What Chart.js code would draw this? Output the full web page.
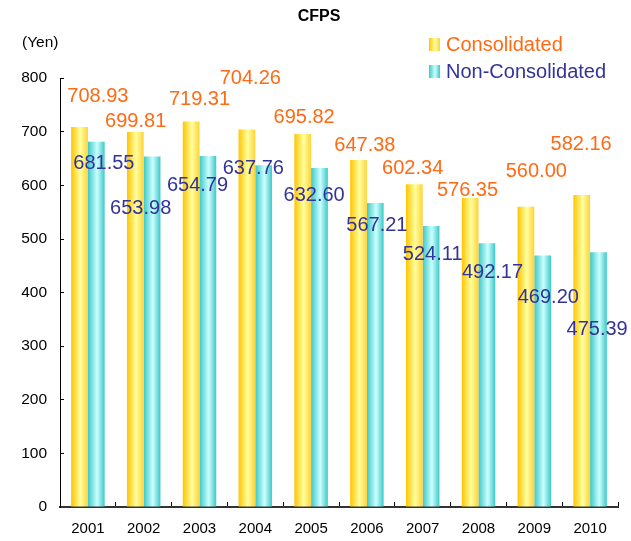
<!DOCTYPE html>
<html>
<head>
<meta charset="utf-8">
<script src="https://cdn.jsdelivr.net/npm/chart.js@4.4.0/dist/chart.umd.min.js"></script>
<style>
  html, body { margin: 0; padding: 0; background: #fff; }
  #wrap { width: 631px; height: 541px; }
</style>
</head>
<body>
<div id="wrap"><canvas id="myChart"></canvas></div>
<script>
  const years = ['2001','2002','2003','2004','2005','2006','2007','2008','2009','2010'];
  const consolidated = [708.93, 699.81, 719.31, 704.26, 695.82, 647.38, 602.34, 576.35, 560.00, 582.16];
  const nonConsolidated = [681.55, 653.98, 654.79, 637.76, 632.60, 567.21, 524.11, 492.17, 469.20, 475.39];
  const seriesNames = ['Consolidated', 'Non-Consolidated'];

  // value labels are hand placed in the original: [dx from category centre, dy from bar top]
  const labelShiftCons = [[10,-31],[-8,-10],[0,-22],[-5,-51],[-7,-17],[-2,-15],[-10,-16],[-11,-8],[2,-35],[-9,-50]];
  const labelShiftNon = [[16,22],[-3,52],[-2,29],[-2,3],[3,28],[10,23],[10,28],[14,29],[14,42],[7,77]];

  const textCols = ['#FF6A13', '#333399'];
  const stops = [
    ['#FFC400', '#FFFF9E', '#FFD23A'],
    ['#3CC8C8', '#CCFFFF', '#3CC8C8']
  ];
  const FONT = "'Liberation Sans', Arial, sans-serif";

  function makeGrad(ctx, x0, x1, k) {
    const g = ctx.createLinearGradient(x0, 0, x1, 0);
    g.addColorStop(0, stops[k][0]);
    g.addColorStop(0.55, stops[k][1]);
    g.addColorStop(1, stops[k][2]);
    return g;
  }

  const catPct = 0.6;

  function barFill(k) {
    return function(c) {
      const chart = c.chart;
      const xs = chart.scales.x;
      if (!xs || c.dataIndex === undefined) return stops[k][0];
      const w = xs.width / years.length;
      const cx = xs.getPixelForValue(c.dataIndex);
      const left = cx - w * catPct / 2 + k * w * catPct / 2;
      if (!isFinite(left) || !isFinite(w) || w <= 0) return stops[k][0];
      return makeGrad(chart.ctx, left, left + w * catPct / 2, k);
    };
  }

  const extras = {
    id: 'extras',
    afterLayout(chart) {
      // title in the original sits a little right of the canvas centre
      if (chart.titleBlock) chart.titleBlock.left += 11;
    },
    afterDatasetsDraw(chart) {
      const ctx = chart.ctx;
      const xs = chart.scales.x;
      ctx.save();
      ctx.font = '20px ' + FONT;
      ctx.textAlign = 'center';
      ctx.textBaseline = 'middle';
      [labelShiftCons, labelShiftNon].forEach((shift, k) => {
        const meta = chart.getDatasetMeta(k);
        const vals = chart.data.datasets[k].data;
        ctx.fillStyle = textCols[k];
        meta.data.forEach((el, i) => {
          const cx = xs.getPixelForValue(i);
          ctx.fillText(vals[i].toFixed(2), cx + shift[i][0], el.y + shift[i][1]);
        });
      });

      // legend
      ctx.textAlign = 'left';
      const rows = [45, 72];
      rows.forEach((y, k) => {
        ctx.fillStyle = makeGrad(ctx, 429, 440, k);
        ctx.fillRect(429, y - 7, 11, 13);
        ctx.fillStyle = textCols[k];
        ctx.fillText(seriesNames[k], 446, y);
      });

      // unit
      ctx.fillStyle = '#000';
      ctx.font = '15.5px ' + FONT;
      ctx.fillText('(Yen)', 22, 43);
      ctx.restore();
    }
  };

  const config = {
    type: 'bar',
    data: {
      labels: years,
      datasets: [
        { label: seriesNames[0], data: consolidated, backgroundColor: barFill(0), borderWidth: 0 },
        { label: seriesNames[1], data: nonConsolidated, backgroundColor: barFill(1), borderWidth: 0 }
      ]
    },
    options: {
      responsive: true,
      maintainAspectRatio: false,
      animation: false,
      categoryPercentage: catPct,
      barPercentage: 1.0,
      layout: { padding: { left: 9, right: 13, top: 0, bottom: 0 } },
      plugins: {
        legend: { display: false },
        tooltip: { enabled: false },
        title: {
          display: true,
          text: 'CFPS',
          color: '#000',
          font: { family: FONT, size: 16, weight: 'bold' },
          padding: { top: 7, bottom: 52 }
        }
      },
      scales: {
        x: {
          afterFit(s) { s.height = 34; },
          grid: { drawOnChartArea: false, drawTicks: true, tickLength: -5, color: '#000', lineWidth: 1 },
          border: { display: true, color: '#333', width: 2 },
          ticks: { color: '#000', font: { family: FONT, size: 15 }, padding: 18 }
        },
        y: {
          min: 0,
          max: 800,
          afterFit(s) { s.width = 51; },
          grid: { drawOnChartArea: false, drawTicks: true, tickLength: -4, color: '#000', lineWidth: 1 },
          border: { display: true, color: '#000', width: 1 },
          ticks: { stepSize: 100, color: '#000', font: { family: FONT, size: 15.5 }, padding: 17 }
        }
      }
    },
    plugins: [extras]
  };

  const myChart = new Chart(document.getElementById('myChart'), config);
</script>
</body>
</html>
